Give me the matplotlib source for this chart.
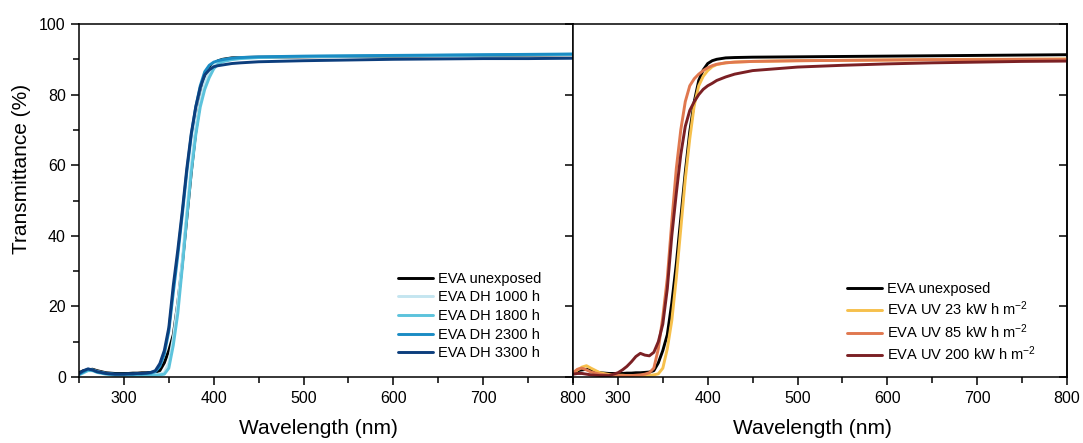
import matplotlib
matplotlib.use("Agg")
import matplotlib.pyplot as plt
from matplotlib.ticker import MultipleLocator

plt.rcParams['font.family'] = ['Liberation Sans', 'DejaVu Sans']
plt.rcParams['mathtext.default'] = 'regular'

# wavelength grid (nm), shared by all curves
wavelength = [250, 255, 260, 265, 270, 280, 290, 300, 305, 310, 315, 320, 325, 330, 335,
              340, 345, 350, 355, 360, 365, 370, 375, 380, 385, 390, 395, 400, 405, 410,
              420, 430, 450, 500, 550, 600, 650, 700, 750, 800]

# transmittance (%)
t_unexposed = [1.2, 1.8, 2.0, 2.2, 1.8, 1.2, 1.0, 1.0, 1.0, 1.1, 1.1, 1.2, 1.2, 1.3, 1.4,
               1.8, 4.0, 7.5, 12.0, 21.0, 32.0, 45.0, 58.0, 69.5, 78.0, 84.0, 87.0, 88.8, 89.6, 90.0,
               90.4, 90.5, 90.6, 90.7, 90.8, 90.9, 91.0, 91.1, 91.2, 91.3]
t_dh1000 = [0.8, 1.4, 1.9, 2.0, 1.6, 1.0, 0.7, 0.6, 0.6, 0.6, 0.6, 0.6, 0.6, 0.7, 0.7,
            0.8, 1.2, 4.0, 11.0, 21.0, 33.0, 47.0, 60.0, 70.5, 78.0, 83.5, 86.5, 88.3, 89.3, 89.8,
            90.2, 90.4, 90.6, 90.8, 90.9, 91.0, 91.1, 91.2, 91.3, 91.4]
t_dh1800 = [0.6, 1.2, 1.8, 1.8, 1.3, 0.8, 0.5, 0.5, 0.5, 0.5, 0.5, 0.5, 0.5, 0.5, 0.5,
            0.6, 0.8, 2.5, 9.0, 18.0, 31.0, 45.0, 58.0, 68.5, 76.5, 81.5, 84.8, 87.3, 88.7, 89.3,
            89.9, 90.2, 90.5, 90.8, 90.9, 91.0, 91.1, 91.2, 91.3, 91.4]
t_dh2300 = [0.8, 1.5, 2.2, 2.0, 1.5, 1.0, 0.8, 0.8, 0.8, 0.8, 0.9, 0.9, 1.0, 1.1, 1.5,
            3.0, 6.5, 13.0, 24.0, 34.5, 46.0, 58.0, 68.5, 76.5, 82.5, 86.5, 88.3, 89.2, 89.6, 89.9,
            90.3, 90.5, 90.7, 90.9, 91.0, 91.1, 91.2, 91.3, 91.4, 91.5]
t_dh3300 = [1.0, 1.8, 2.3, 2.0, 1.5, 1.0, 0.8, 0.8, 0.9, 0.9, 1.0, 1.0, 1.1, 1.3, 1.8,
            3.8, 7.5, 14.0, 26.0, 36.0, 47.0, 59.0, 69.0, 76.5, 82.0, 85.6, 87.0, 87.9, 88.2, 88.4,
            88.8, 89.0, 89.3, 89.6, 89.8, 90.0, 90.1, 90.2, 90.2, 90.3]
t_uv23 = [1.0, 2.0, 2.8, 3.2, 2.5, 1.2, 0.7, 0.5, 0.5, 0.4, 0.4, 0.4, 0.4, 0.4, 0.5,
          0.6, 0.9, 2.5, 8.0, 16.0, 28.0, 42.0, 56.0, 67.5, 77.0, 82.5, 85.2, 86.8, 87.9, 88.5,
          89.0, 89.2, 89.4, 89.6, 89.7, 89.8, 89.9, 90.0, 90.0, 90.1]
t_uv85 = [1.2, 2.2, 2.5, 2.0, 1.4, 0.8, 0.5, 0.4, 0.4, 0.4, 0.4, 0.5, 0.6, 0.8, 1.2,
          2.5, 8.0, 17.0, 28.0, 44.0, 59.0, 70.0, 78.0, 82.5, 84.5, 85.8, 86.8, 87.6, 88.2, 88.6,
          89.0, 89.2, 89.4, 89.6, 89.7, 89.8, 89.9, 89.9, 90.0, 90.0]
t_uv200 = [0.8, 1.0, 1.0, 0.8, 0.6, 0.4, 0.4, 1.2, 2.0, 3.0, 4.3, 5.8, 6.7, 6.2, 6.0,
           7.0, 10.0, 15.0, 25.0, 40.0, 52.0, 63.0, 71.0, 75.5, 78.0, 80.0, 81.5, 82.5, 83.2, 84.0,
           85.0, 85.8, 86.8, 87.8, 88.3, 88.7, 89.0, 89.2, 89.4, 89.5]

left_series = [
    ("EVA unexposed", t_unexposed, "#000000"),
    ("EVA DH 1000 h", t_dh1000, "#c4e5f0"),
    ("EVA DH 1800 h", t_dh1800, "#5cc3dc"),
    ("EVA DH 2300 h", t_dh2300, "#1a8cc4"),
    ("EVA DH 3300 h", t_dh3300, "#0c3e7d"),
]
right_series = [
    ("EVA unexposed", t_unexposed, "#000000"),
    (r"EVA UV 23 kW h m$^{-2}$", t_uv23, "#f6c04c"),
    (r"EVA UV 85 kW h m$^{-2}$", t_uv85, "#e0784f"),
    (r"EVA UV 200 kW h m$^{-2}$", t_uv200, "#7b2024"),
]

W, H = 1083, 443
fig = plt.figure(figsize=(W / 100, H / 100), dpi=100)
ax1 = fig.add_axes([79 / W, 1 - 377 / H, 494 / W, 353 / H])
ax2 = fig.add_axes([573 / W, 1 - 377 / H, 494 / W, 353 / H])

for ax, series in ((ax1, left_series), (ax2, right_series)):
    for label, vals, col in series:
        ax.plot(wavelength, vals, color=col, lw=2.1, label=label, solid_capstyle='round')
    ax.set_xlim(250, 800)
    ax.set_ylim(0, 100)
    ax.xaxis.set_major_locator(MultipleLocator(100))
    ax.xaxis.set_minor_locator(MultipleLocator(50))
    ax.yaxis.set_major_locator(MultipleLocator(20))
    for s in ax.spines.values():
        s.set_linewidth(1.1)
    ax.tick_params(axis='x', which='major', direction='out', length=6, width=1.1,
                   labelsize=11.5, pad=4)
    ax.tick_params(axis='x', which='minor', direction='out', length=4.5, width=1.1)
    ax.set_xlabel("Wavelength (nm)", fontsize=15)
    ax.xaxis.set_label_coords(0.485, -0.12)

ax1.yaxis.set_minor_locator(MultipleLocator(10))
ax1.tick_params(axis='y', which='major', direction='out', length=6, width=1.1, labelsize=11.5)
ax1.tick_params(axis='y', which='minor', direction='out', length=4, width=1.1)
ax1.set_ylabel("Transmittance (%)", fontsize=15)
ax1.yaxis.set_label_coords(-0.097, 0.59)

# right panel: outward ticks on the shared edge, inward ticks on the far edge
ax2.tick_params(axis='y', which='major', direction='out', length=6, width=1.1,
                labelleft=False)
sec = ax2.secondary_yaxis('right')
sec.yaxis.set_major_locator(MultipleLocator(20))
sec.tick_params(axis='y', which='major', direction='in', length=6, width=1.1,
                labelright=False)
sec.spines['right'].set_linewidth(1.1)

ax1.legend(loc='lower left', bbox_to_anchor=(0.646, 0.047), frameon=False, fontsize=10.5,
           handlelength=2.4, handletextpad=0.35, labelspacing=0.32, borderpad=0,
           borderaxespad=0)
ax2.legend(loc='lower left', bbox_to_anchor=(0.555, 0.04), frameon=False, fontsize=10.5,
           handlelength=2.4, handletextpad=0.3, labelspacing=0.25, borderpad=0,
           borderaxespad=0)

fig.savefig("out.png", dpi=100)
